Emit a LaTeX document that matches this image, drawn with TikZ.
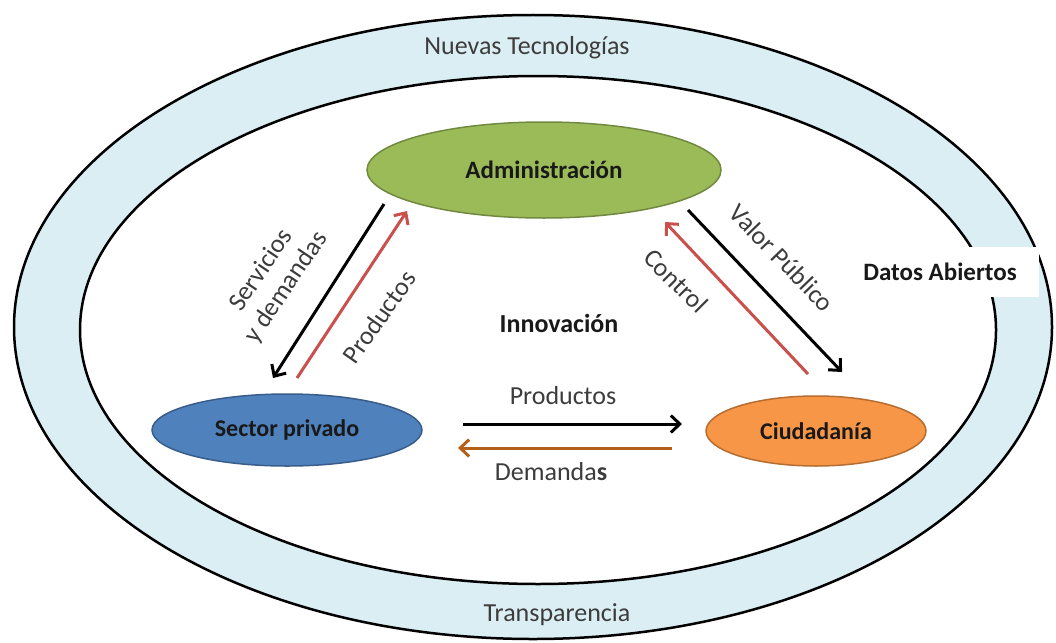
\documentclass[tikz,border=0pt]{standalone}
\usepackage{fontspec}
\setmainfont{Carlito}
\usetikzlibrary{shapes.geometric,arrows.meta}
\definecolor{band}{HTML}{DBEEF4}
\definecolor{txtgray}{HTML}{3C3C3C}
\definecolor{admfill}{HTML}{9BBB59}
\definecolor{admline}{HTML}{71893F}
\definecolor{secfill}{HTML}{4F81BD}
\definecolor{secline}{HTML}{385D8A}
\definecolor{ciufill}{HTML}{F79646}
\definecolor{ciuline}{HTML}{B66D31}
\definecolor{redarrow}{HTML}{C9504D}
\definecolor{brownarrow}{HTML}{B5601A}
\tikzset{
  actor/.style={ellipse, draw, line width=1.5pt, inner sep=0pt, font=\fontsize{24}{28}\selectfont\bfseries, text=black!90},
  bandlabel/.style={font=\fontsize{26}{30}\selectfont, text=txtgray},
  flowlabel/.style={font=\fontsize{26}{30}\selectfont, text=txtgray, align=center},
  flow/.style={line width=3pt, -{Straight Barb[length=9pt,width=17pt,line width=3pt]}},
}
\begin{document}
\begin{tikzpicture}[x=1pt,y=-1pt]
\useasboundingbox (0,0) rectangle (1056,642);
% rings
\draw[line width=2.5pt, fill=band] (533,327) ellipse [x radius=519, y radius=312];
\draw[line width=2.5pt, fill=white] (538,330) ellipse [x radius=458, y radius=254];
% ring labels
\node[bandlabel] (nt) at (527,48) {Nuevas Tecnologías};
\node[bandlabel] (tr) at (557,615) {Transparencia};
\node[fill=white, minimum width=197, minimum height=50, inner sep=0pt,
      font=\fontsize{25}{30}\selectfont\bfseries, text=black!90] (da) at (940,272) {Datos Abiertos};
% actors
\node[actor, fill=admfill, draw=admline, minimum width=354, minimum height=96,
      font=\fontsize{25}{30}\selectfont\bfseries] (adm) at (544,170) {Administración};
\node[actor, fill=secfill, draw=secline, minimum width=270, minimum height=72] (sec) at (287,430) {Sector privado};
\node[actor, fill=ciufill, draw=ciuline, minimum width=220, minimum height=70] (ciu) at (816,431) {Ciudadanía};
\node[font=\fontsize{26}{30}\selectfont\bfseries, text=black!90] (inn) at (559,323) {Innovación};
% arrow end points
\coordinate (a1s) at (384,204);
\coordinate (a1e) at (273,378);
\coordinate (a2s) at (297,378);
\coordinate (a2e) at (407,211);
\coordinate (a3s) at (688,210);
\coordinate (a3e) at (842,372);
\coordinate (a4s) at (808,374);
\coordinate (a4e) at (665,222);
\coordinate (a5s) at (463,424);
\coordinate (a5e) at (682,424);
\coordinate (a6s) at (672,448);
\coordinate (a6e) at (458,448);
% arrows
\draw[flow, black] (a1s) -- (a1e);
\draw[flow, redarrow] (a2s) -- (a2e);
\draw[flow, black] (a3s) -- (a3e);
\draw[flow, redarrow] (a4s) -- (a4e);
\draw[flow, black] (a5s) -- (a5e);
\draw[flow, brownarrow] (a6s) -- (a6e);
% flow labels
\node[flowlabel, rotate=56] (l1) at (274,279) {Servicios\\y demandas};
\node[flowlabel, rotate=55] (l2) at (379,317) {Productos};
\node[flowlabel, rotate=-46] (l3) at (782,258) {Valor Público};
\node[flowlabel, rotate=-45] (l4) at (676,281) {Control};
\node[flowlabel] (l5) at (563,396) {Productos};
\node[flowlabel] (l6) at (551,472) {Demanda\textbf{s}};
\end{tikzpicture}
\end{document}
